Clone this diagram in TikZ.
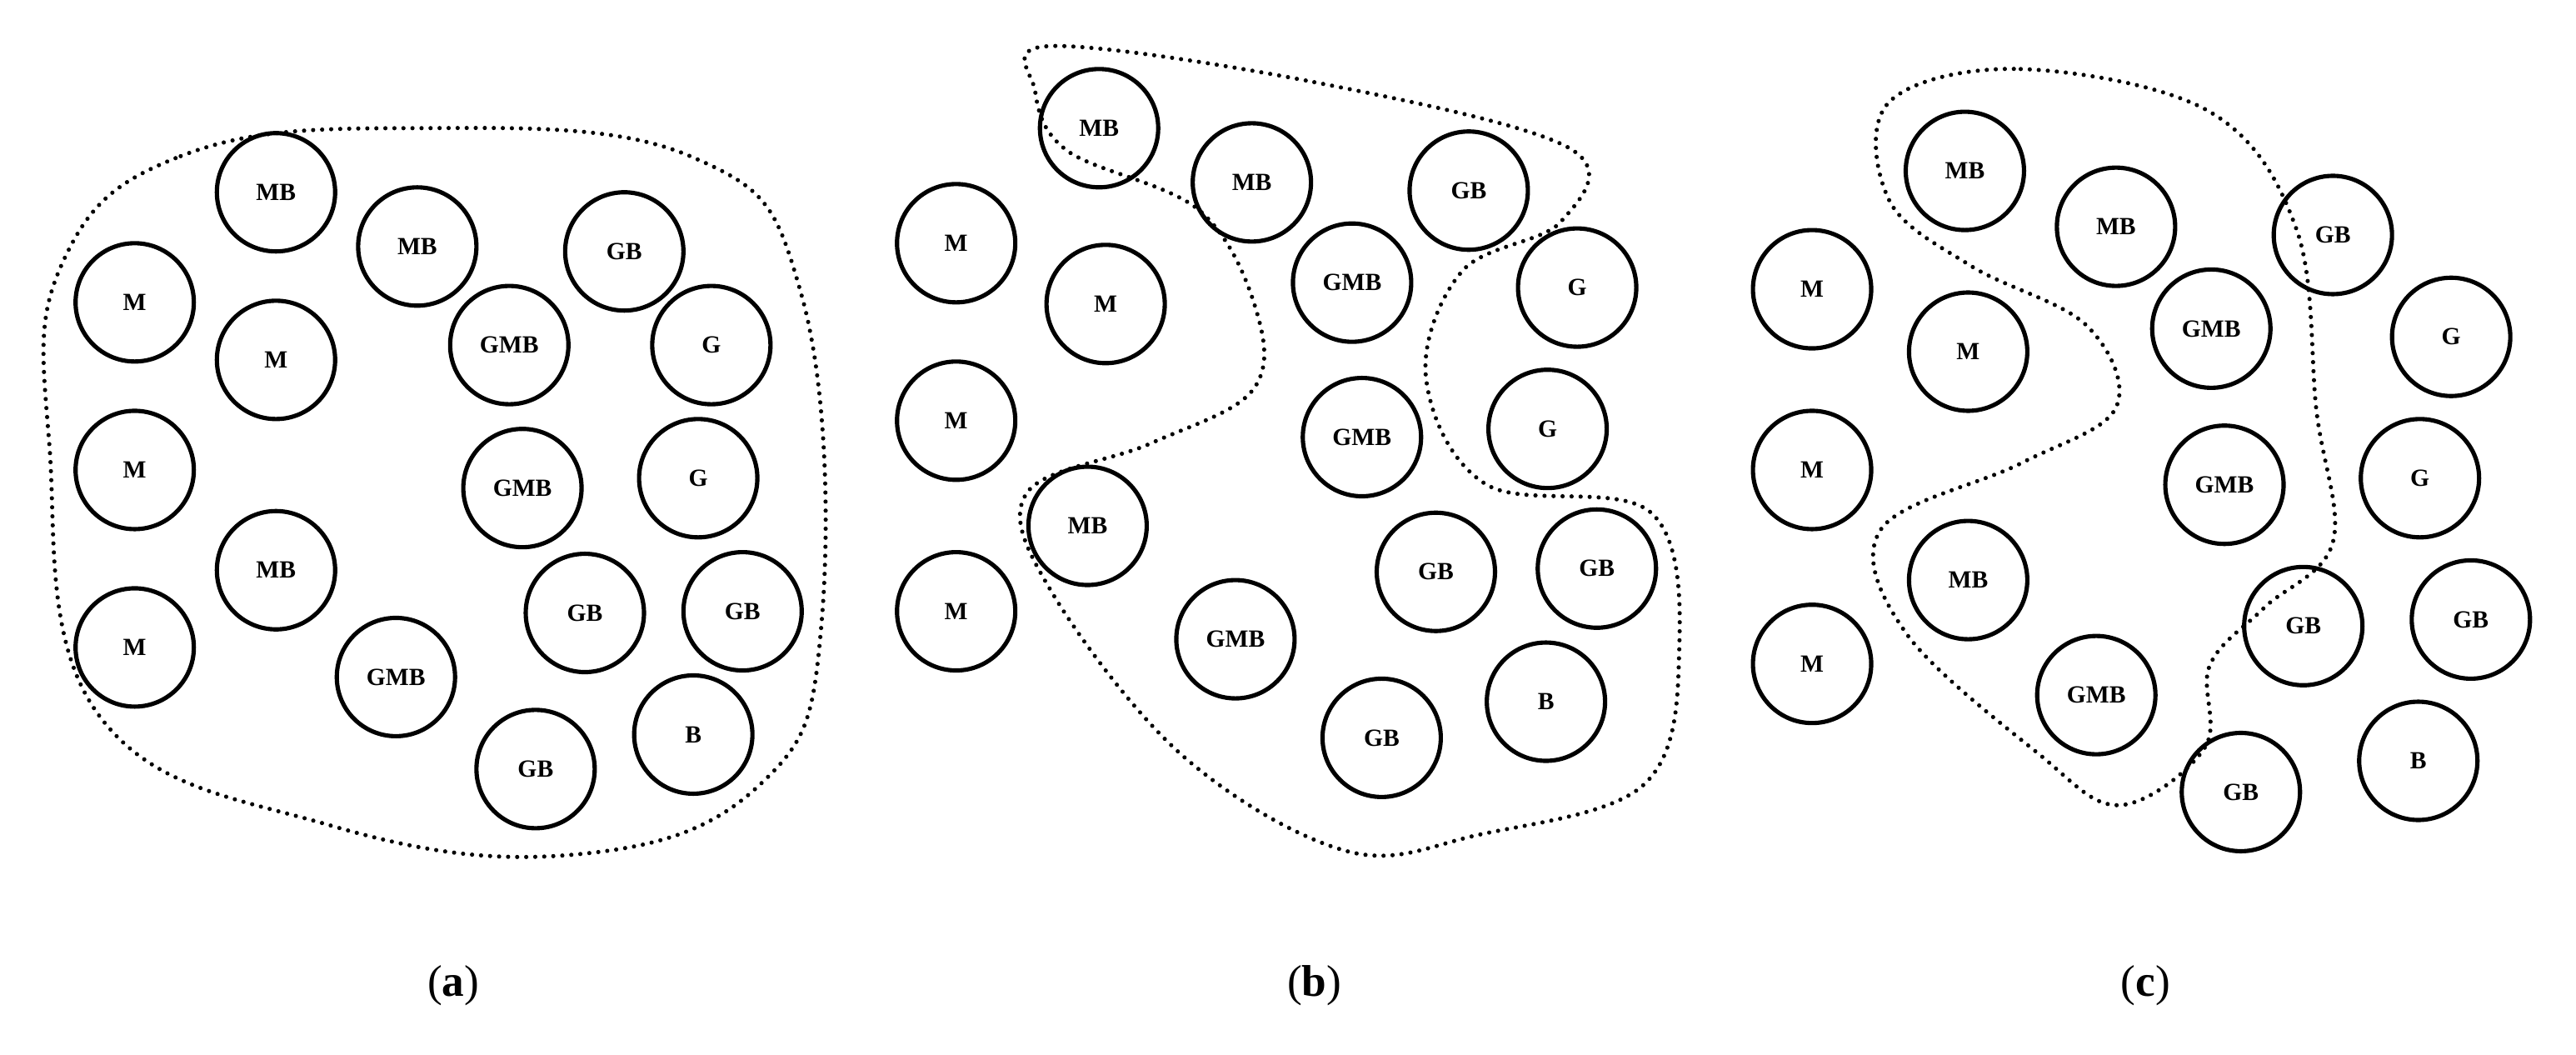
\documentclass[tikz,border=0pt]{standalone}
\usepackage{fontspec}
\setmainfont{Liberation Serif}
\usetikzlibrary{calc}
\begin{document}
\begin{tikzpicture}[x=1pt,y=-1pt,
 c/.style={circle,draw,line width=2.6pt,minimum size=72pt,inner sep=0pt,font=\bfseries\fontsize{15}{15}\selectfont},
 dl/.style={line width=2.6pt,line cap=round,dash pattern=on 0pt off 5.5pt},
 lab/.style={font=\fontsize{27}{27}\selectfont}]
\useasboundingbox (0,0) rectangle (1568,642);
% (a)
\foreach \n/\x/\y/\t in {a1/82/184/M,a2/168/117/MB,a3/254/150/MB,a4/380/153/GB,a5/168/219/M,a6/310/210/GMB,a7/433/210/G,a8/82/286/M,a9/318/297/GMB,a10/425/291/G,a11/168/347/MB,a12/356/373/GB,a13/452/372/GB,a14/82/394/M,a15/241/412/GMB,a16/326/468/GB,a17/422/447/B}
 \node[c] (\n) at (\x,\y) {\t};
\draw[dl] plot[smooth cycle,tension=0.7] coordinates {(38,160) (110,95) (250,78) (420,95) (488,180) (500,380) (462,478) (350,520) (200,502) (60,435) (30,270)};
% (b)
\foreach \n/\x/\y/\t in {b1/582/148/M,b2/669/78/MB,b3/762/111/MB,b4/894/116/GB,b5/673/185/M,b6/823/172/GMB,b7/960/175/G,b8/582/256/M,b9/829/266/GMB,b10/942/261/G,b11/662/320/MB,b12/874/348/GB,b13/972/346/GB,b14/582/372/M,b15/752/389/GMB,b16/841/449/GB,b17/941/427/B}
 \node[c] (\n) at (\x,\y) {\t};
\draw[dl] plot[smooth cycle,tension=0.6] coordinates {(640,28) (800,50) (955,90) (950,135) (890,165) (868,230) (905,295) (1005,312) (1022,400) (1000,478) (900,508) (820,518) (720,460) (640,360) (625,300) (700,270) (762,238) (765,190) (730,128) (650,92) (630,55)};
% (c)
\foreach \n/\x/\y/\t in {c1/1103/176/M,c2/1196/104/MB,c3/1288/138/MB,c4/1420/143/GB,c5/1198/214/M,c6/1346/200/GMB,c7/1492/205/G,c8/1103/286/M,c9/1354/295/GMB,c10/1473/291/G,c11/1198/353/MB,c12/1402/381/GB,c13/1504/377/GB,c14/1103/404/M,c15/1276/423/GMB,c16/1364/482/GB,c17/1472/463/B}
 \node[c] (\n) at (\x,\y) {\t};
\draw[dl] plot[smooth cycle,tension=0.6] coordinates {(1150,62) (1230,42) (1345,68) (1398,140) (1410,250) (1420,330) (1378,370) (1345,405) (1342,455) (1290,490) (1240,458) (1160,385) (1145,322) (1230,282) (1288,248) (1270,198) (1200,162) (1150,122)};
\node[lab] (la) at (276,600) {(\textbf{a})};
\node[lab] (lb) at (800,600) {(\textbf{b})};
\node[lab] (lc) at (1306,600) {(\textbf{c})};
\end{tikzpicture}
\end{document}
